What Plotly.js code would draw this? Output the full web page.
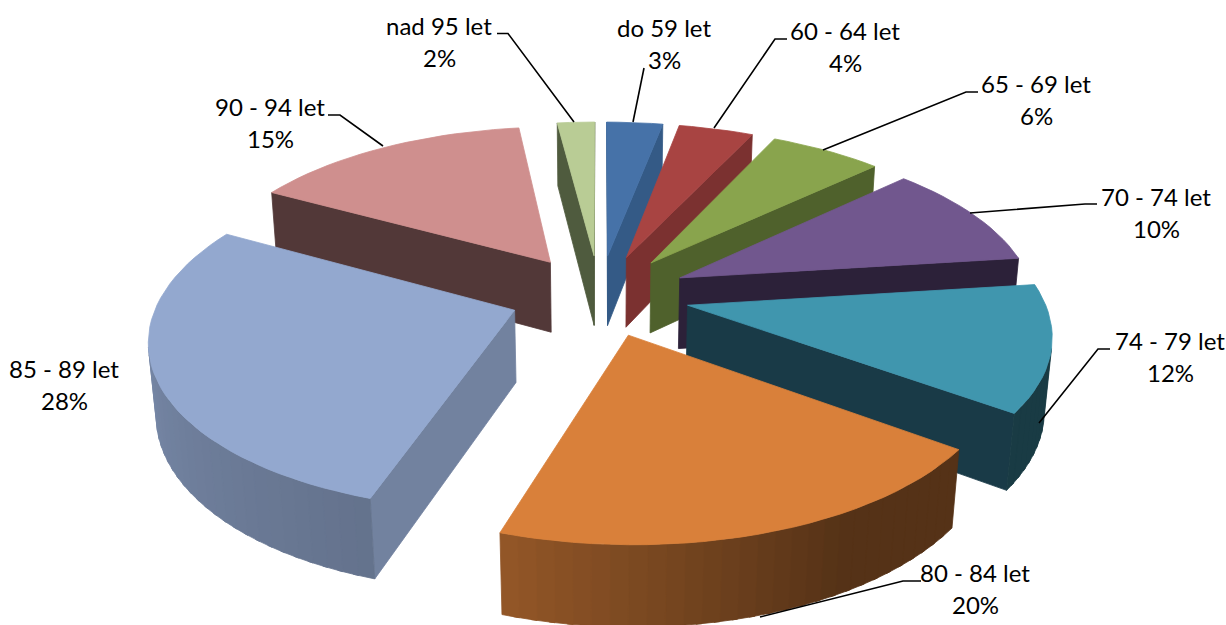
<!DOCTYPE html>
<html><head><meta charset="utf-8">
<script src="https://cdn.plot.ly/plotly-3.0.1.min.js"></script>
<style>html,body{margin:0;padding:0;background:#fff}#c{width:1226px;height:625px}</style>
</head><body><div id="c"></div>
<script>
const categories=["do 59 let","60 - 64 let","65 - 69 let","70 - 74 let","74 - 79 let","80 - 84 let","85 - 89 let","90 - 94 let","nad 95 let"];
const shares=[3,4,6,10,12,20,28,15,2];
const topColors=["#4672A8","#A84442","#89A44D","#71578E","#4096AE","#D9803A","#93A8CF","#CF8F8E","#B9CC95"];
const wallColors=["#345A86","#7B3130","#4F612C","#2C2139","#193A47","#553316","#72829F","#523838","#4F5B3E"];
const labelX=[664,845,1036,1156,1170,975,64,270,439];
const labelY=[44,47,100,213,357,589,385,123,42];
const leaders=[[[644,68],[633,122]],[[787,39],[775,39],[714,128]],[[978,92],[966,92],[823,150]],[[1097,204],[1085,204],[970,213]],[[1110,349],[1098,349],[1039,423]],[[921,581],[903,581],[760,617]],[],[[328,115],[340,115],[383,146]],[[497,33.5],[508,33.5],[574,122]]];
// camera
const cx=599.5,cy=295,F=2162,dist=5.94,pitch=26.9*Math.PI/180,explode=0.2475,thick=0.224,rimX=0.975;
const SA=Math.sin(pitch),CA=Math.cos(pitch);
function proj(x,y,z){const v=y*SA+z*CA,w=y*CA-z*SA,s=F/(dist+w);return [cx+x*s,cy-v*s];}
function hex(c){return [1,3,5].map(i=>parseInt(c.substr(i,2),16));}
function shade(c,f){return "rgb("+hex(c).map(v=>Math.round(v*f)).join(",")+")";}
function rimShade(t){
  if(t<=150)return .39; if(t<=198)return .39+(t-150)/48*.29;
  return .68+Math.min(t-198,101)/101*.2;
}
const traces=[];
function poly(pts,col){
  traces.push({type:"scatter",mode:"lines",x:pts.map(p=>p[0]).concat(pts[0][0]),y:pts.map(p=>p[1]).concat(pts[0][1]),
    fill:"toself",fillcolor:col,line:{color:col,width:.8},hoverinfo:"skip",showlegend:false});
}
function area(q){let a=0;for(let i=0;i<q.length;i++){const p=q[i],n=q[(i+1)%q.length];a+=p[0]*n[1]-n[0]*p[1];}return a;}
function wall(a,b,col){
  const q=[proj(a[0],a[1],0),proj(b[0],b[1],0),proj(b[0],b[1],-thick),proj(a[0],a[1],-thick)];
  if(area(q)<0)poly(q,col);
}
const total=shares.reduce((a,b)=>a+b,0);
let cum=0;
const slices=shares.map((v,i)=>{const t0=cum/total*360;cum+=v;const t1=cum/total*360;return {i,t0,t1,mid:(t0+t1)/2};});
const dirOf=t=>[Math.sin(t*Math.PI/180),Math.cos(t*Math.PI/180)];
slices.slice().sort((a,b)=>dirOf(b.mid)[1]-dirOf(a.mid)[1]).forEach(s=>{
  const d=dirOf(s.mid),o=[d[0]*explode,d[1]*explode];
  const rim=t=>{const u=dirOf(t);return [o[0]+u[0]*rimX,o[1]+u[1]];};
  const n=Math.max(2,Math.ceil((s.t1-s.t0)/2.5)),ts=[];
  for(let k=0;k<=n;k++)ts.push(s.t0+(s.t1-s.t0)*k/n);
  wall(o,rim(s.t0),wallColors[s.i]);
  wall(rim(s.t1),o,wallColors[s.i]);
  for(let k=0;k<n;k++){
    const a=rim(ts[k]),b=rim(k<n-1?ts[k+1]+.8:ts[k+1]);
    wall(a,b,shade(topColors[s.i],rimShade((ts[k]+ts[k+1])/2)));
  }
  const top=[proj(o[0],o[1],0)].concat(ts.map(t=>{const r=rim(t);return proj(r[0],r[1],0);}));
  poly(top,topColors[s.i]);
});
leaders.forEach(l=>{ if(l.length) traces.push({type:"scatter",mode:"lines",x:l.map(p=>p[0]),y:l.map(p=>p[1]),line:{color:"#000",width:1.6},hoverinfo:"skip",showlegend:false}); });
const font={family:"Lato",size:24,color:"#000"};
const annotations=[];
categories.forEach((c,i)=>{
  annotations.push({x:labelX[i],y:labelY[i]-17,xref:"x",yref:"y",text:c,showarrow:false,xanchor:"center",yanchor:"middle",font});
  annotations.push({x:labelX[i],y:labelY[i]+15.5,xref:"x",yref:"y",text:Math.round(shares[i]/total*100)+"%",showarrow:false,xanchor:"center",yanchor:"middle",font});
});
Plotly.newPlot("c",traces,{width:1226,height:625,margin:{l:0,r:0,t:0,b:0},paper_bgcolor:"#fff",plot_bgcolor:"#fff",showlegend:false,
  xaxis:{range:[0,1226],visible:false,fixedrange:true},yaxis:{range:[625,0],visible:false,fixedrange:true},annotations},{displayModeBar:false,staticPlot:true});
</script></body></html>
